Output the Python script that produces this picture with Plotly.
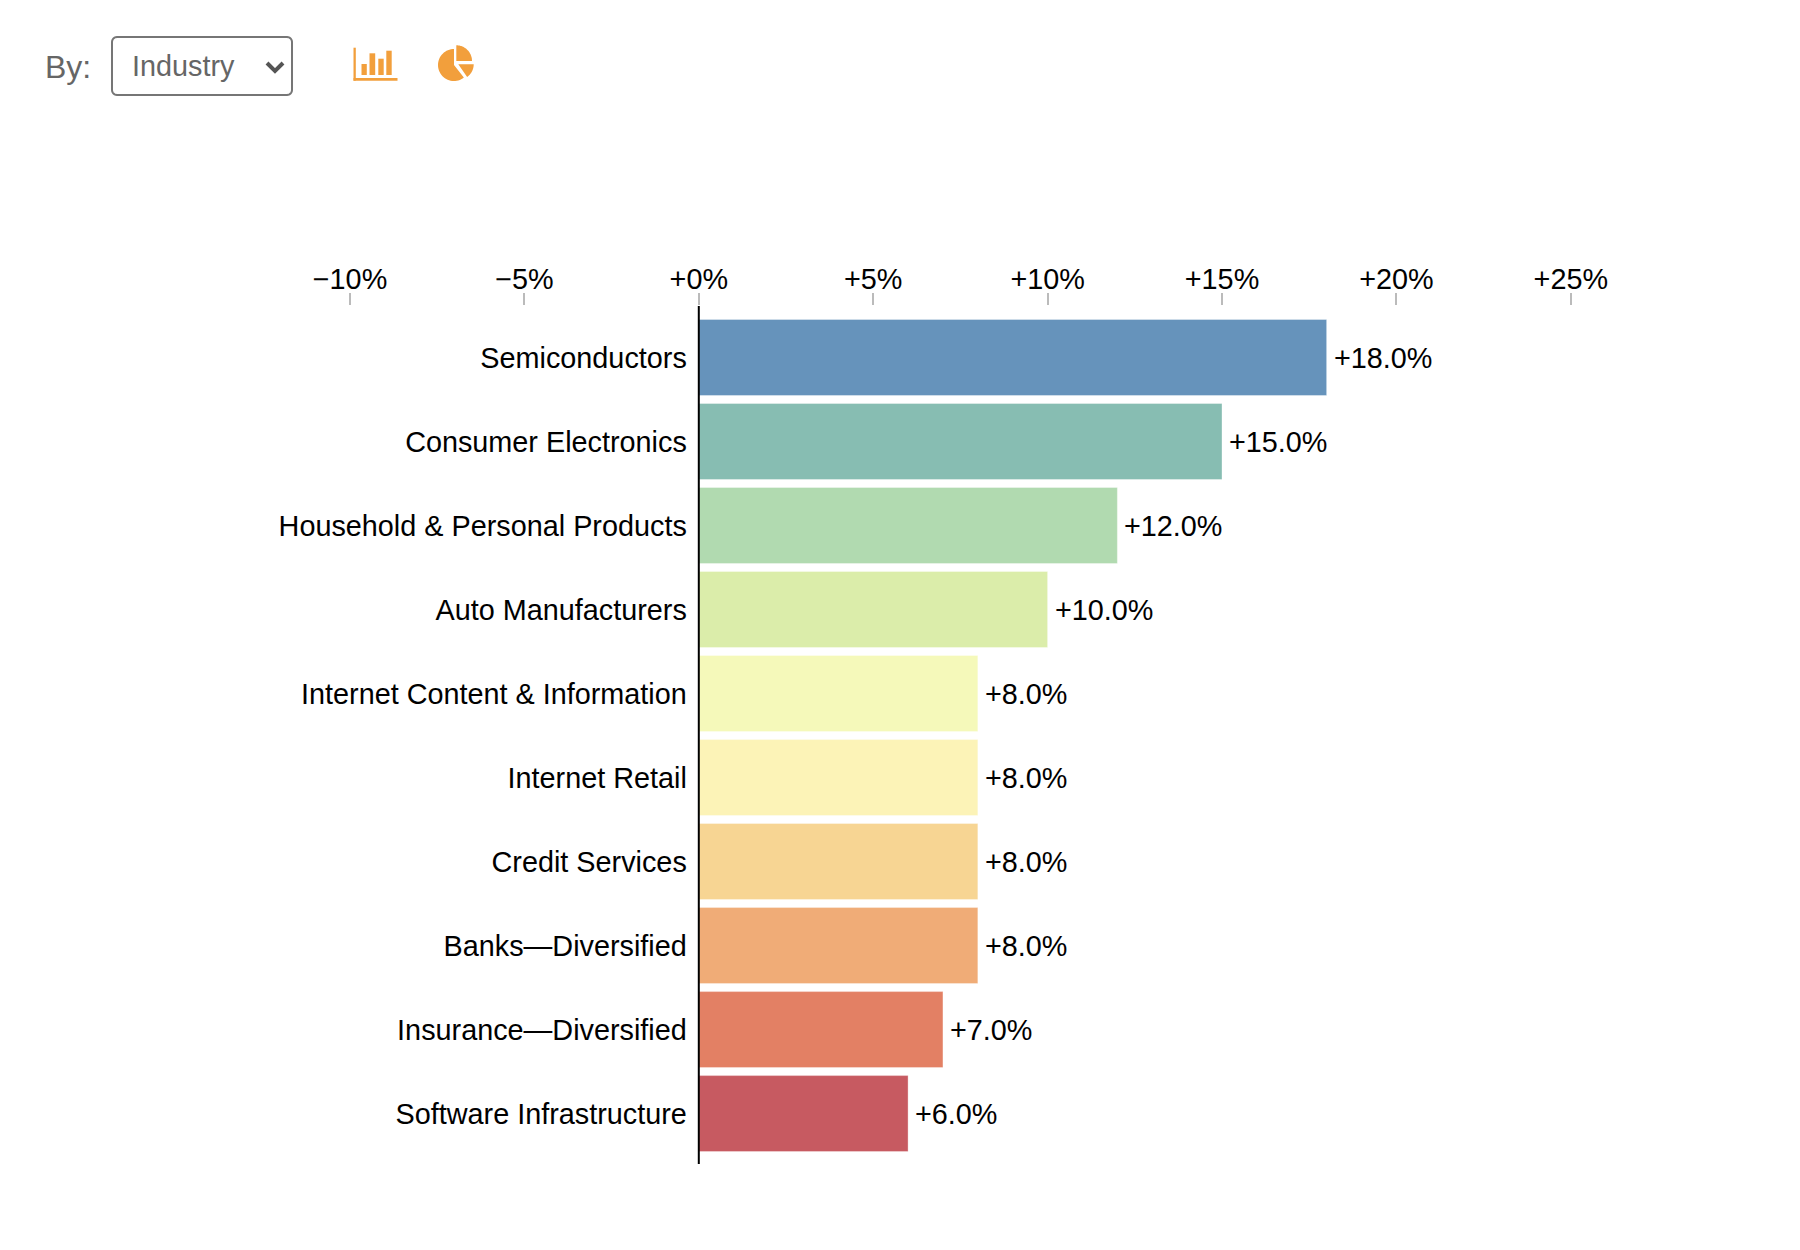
import numpy as np
import plotly.graph_objects as go

categories = ["Semiconductors", "Consumer Electronics", "Household & Personal Products",
              "Auto Manufacturers", "Internet Content & Information", "Internet Retail",
              "Credit Services", "Banks—Diversified", "Insurance—Diversified",
              "Software Infrastructure"]
values = [18, 15, 12, 10, 8, 8, 8, 8, 7, 6]
colors = ["#6693BB", "#87BDB2", "#B1DAB0", "#DBEDAA", "#F5F9BA",
          "#FCF3B7", "#F7D593", "#F0AC77", "#E38064", "#C75A61"]
tick_vals = [-10, -5, 0, 5, 10, 15, 20, 25]
tick_text = ["−10%", "−5%", "+0%", "+5%", "+10%", "+15%", "+20%", "+25%"]
bar_labels = [f"+{v:.1f}%" for v in values]

W, H = 1800, 1250
PXPER = 34.88
L, R, T, B = 350, 1700, 306, 1164   # plot area in page pixels
ZERO = L + 10 * PXPER
FONT = "Liberation Sans"
ORANGE = "#F29F3C"


def fx(x):
    return (x - L) / (R - L)


def fy(y):
    return (B - y) / (B - T)


def path(points, close=True):
    s = "M" + " L".join(f"{fx(x):.5f},{fy(y):.5f}" for x, y in points)
    return s + (" Z" if close else "")


def rect(x0, y0, x1, y1):
    return dict(type="rect", xref="paper", yref="paper", x0=fx(x0), x1=fx(x1), y0=fy(y0), y1=fy(y1),
                fillcolor=ORANGE, line_width=0, layer="above")


def rounded(x0, y0, x1, y1, r):
    pts = []
    for cx, cy, a0 in [(x1 - r, y0 + r, -90), (x1 - r, y1 - r, 0), (x0 + r, y1 - r, 90), (x0 + r, y0 + r, 180)]:
        for a in np.radians(np.linspace(a0, a0 + 90, 7)):
            pts.append((cx + r * np.cos(a), cy + r * np.sin(a)))
    return pts


def wedge(cx, cy, r, a0, a1):
    pts = [(cx, cy)]
    for a in np.radians(np.linspace(a0, a1, 40)):
        pts.append((cx + r * np.cos(a), cy + r * np.sin(a)))
    return pts


fig = go.Figure(go.Bar(
    x=values, y=categories, orientation="h",
    marker=dict(color=colors, line=dict(color="rgba(255,255,255,0.35)", width=1)),
    hoverinfo="skip",
))

shapes = [
    # baseline at zero, above the bars
    dict(type="line", xref="x", yref="paper", x0=0, x1=0, y0=0, y1=1,
         line=dict(color="#000", width=2), layer="above"),
    # select box
    dict(type="path", xref="paper", yref="paper", path=path(rounded(112, 37, 292, 95, 5)),
         fillcolor="white", line=dict(color="#767676", width=2), layer="above"),
    # chevron
    dict(type="path", xref="paper", yref="paper", path=path([(267, 63), (275, 71), (283, 63)], close=False),
         line=dict(color="#555555", width=4), layer="above"),
    # bar icon
    rect(353.5, 47.7, 355.8, 80.7), rect(353.5, 78, 397.5, 80.7),
    rect(361.5, 64, 366.8, 75), rect(369.5, 53.3, 375.2, 75),
    rect(378.3, 58.7, 383.7, 75), rect(386.3, 50.7, 391.7, 75),
]
# pie icon
for cx, cy, r, a0, a1 in [(454, 65, 16, 52, 270), (456.3, 61, 15.7, -90, 0), (458.3, 64.3, 15.4, 0, 55)]:
    shapes.append(dict(type="path", xref="paper", yref="paper", path=path(wedge(cx, cy, r, a0, a1)),
                       fillcolor=ORANGE, line_width=0, layer="above"))

annotations = [
    dict(text="By:", x=fx(43), y=fy(67), xref="paper", yref="paper", xanchor="left", yanchor="middle",
         showarrow=False, font=dict(family=FONT, size=32, color="#666666")),
    dict(text="Industry", x=fx(130), y=fy(66), xref="paper", yref="paper", xanchor="left", yanchor="middle",
         showarrow=False, font=dict(family=FONT, size=28.8, color="#666666")),
]
for v, c, t in zip(values, categories, bar_labels):
    annotations.append(dict(text=t, x=v, y=c, xref="x", yref="y", xanchor="left", yanchor="middle",
                            xshift=5, yshift=0, showarrow=False,
                            font=dict(family=FONT, size=28.8, color="#000")))

fig.update_layout(
    width=W, height=H, autosize=False,
    margin=dict(l=L, r=W - R, t=T, b=H - B, pad=0),
    paper_bgcolor="white", plot_bgcolor="white",
    showlegend=False, bargap=8 / 84,
    shapes=shapes, annotations=annotations,
    xaxis=dict(side="top", range=[-10, -10 + (R - L) / PXPER], tickvals=tick_vals, ticktext=tick_text,
               ticks="outside", ticklen=12, tickwidth=2, tickcolor="#BBBBBB", ticklabelstandoff=-8,
               tickfont=dict(family=FONT, size=28.8, color="#000"),
               showgrid=False, showline=False, zeroline=False),
    yaxis=dict(type="category", categoryorder="array", categoryarray=categories,
               range=[9.60, -0.613], anchor="free", position=(ZERO - L) / (R - L),
               showgrid=False, showline=False, zeroline=False, ticks="", ticklabelstandoff=12,
               tickfont=dict(family=FONT, size=28.8, color="#000")),
)

fig.write_html("out.html", config=dict(displayModeBar=False),
               post_script="document.body.style.margin='0';")
